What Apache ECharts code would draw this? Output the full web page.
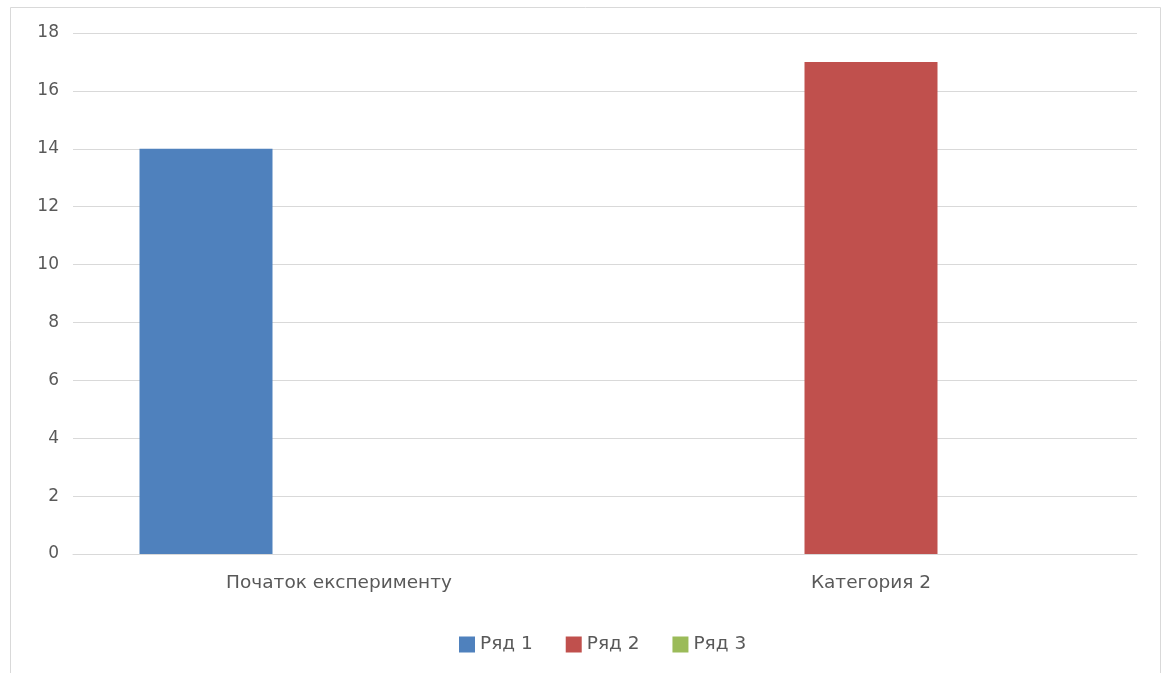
<!DOCTYPE html>
<html>
<head>
<meta charset="utf-8">
<script src="https://cdn.jsdelivr.net/npm/echarts@6/dist/echarts.min.js"></script>
<style>
  html, body { margin: 0; padding: 0; background: #fff; }
  #chart { width: 1167px; height: 673px; }
</style>
</head>
<body>
<div id="chart"></div>
<script>
// Categories and series values
const categories = ['Початок експерименту', 'Категория 2'];
const seriesNames = ['Ряд 1', 'Ряд 2', 'Ряд 3'];
const row1 = [14, null];
const row2 = [null, 17];
const row3 = [null, null];
const yTicks = { min: 0, max: 18, step: 2 };

const colors = ['#4F81BD', '#C0504D', '#9BBB59'];
const textColor = '#595959';
const font = '"DejaVu Sans", sans-serif';

const chart = echarts.init(document.getElementById('chart'), null, { renderer: 'canvas' });

const values = [row1, row2, row3];

chart.setOption({
  animation: false,
  backgroundColor: '#ffffff',
  color: colors,
  graphic: [{
    type: 'rect',
    shape: { x: 10.5, y: 7.5, width: 1150, height: 700 },
    style: { fill: 'none', stroke: '#d9d9d9', lineWidth: 1 },
    silent: true,
    z: -1
  }],
  grid: { left: 73, right: 30, top: 33, bottom: 119, containLabel: false },
  legend: {
    left: 454,
    top: 630,
    itemWidth: 16,
    itemHeight: 16,
    itemGap: 33,
    icon: 'rect',
    textStyle: { color: textColor, fontSize: 18.5, fontFamily: font },
    data: seriesNames
  },
  xAxis: {
    type: 'category',
    data: categories,
    axisLine: { show: true, lineStyle: { color: '#d9d9d9', width: 1 } },
    axisTick: { show: false },
    axisLabel: { color: textColor, fontSize: 18.5, fontFamily: font, margin: 20 }
  },
  yAxis: {
    type: 'value',
    min: yTicks.min,
    max: yTicks.max,
    interval: yTicks.step,
    axisLine: { show: false },
    axisTick: { show: false },
    splitLine: { lineStyle: { color: '#d9d9d9', width: 1 } },
    axisLabel: { color: textColor, fontSize: 17, fontFamily: font, margin: 14 }
  },
  series: seriesNames.map((name, i) => ({
    name: name,
    type: 'bar',
    data: values[i],
    barGap: '0%',
    barCategoryGap: '25%',
    itemStyle: { color: colors[i] }
  }))
});
</script>
</body>
</html>
